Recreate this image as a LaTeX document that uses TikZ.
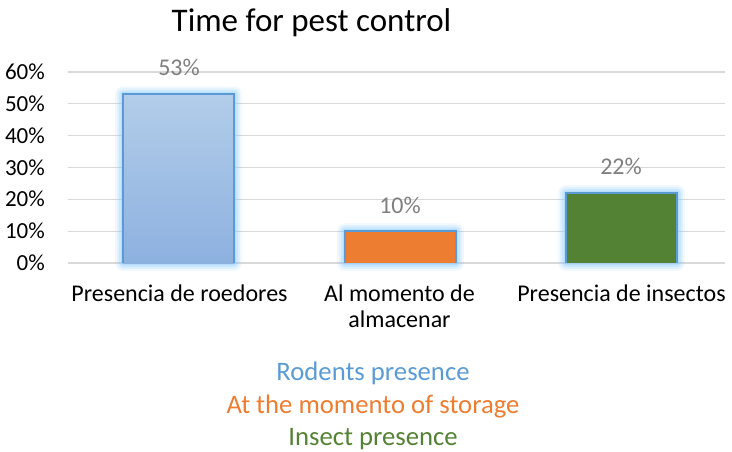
\documentclass[tikz,border=0pt]{standalone}
\usepackage{fontspec}
\setmainfont{Carlito}
\definecolor{rejilla}{HTML}{D9D9D9}
\definecolor{borde}{HTML}{5B9BD5}
\definecolor{brillo}{HTML}{8CCBFF}
\definecolor{azularriba}{HTML}{B3CDEA}
\definecolor{azulabajo}{HTML}{8DB1DF}
\definecolor{naranja}{HTML}{ED7D31}
\definecolor{verde}{HTML}{548235}
\definecolor{gris}{HTML}{7F7F7F}

\begin{document}
\begin{tikzpicture}[x=1pt,y=-1pt]
  \useasboundingbox (0,0) rectangle (732,452);

  % Titulo
  \node[anchor=base, font=\fontsize{33}{38}\selectfont] (titulo) at (311.5,32) {Time for pest control};

  % Rejilla y eje
  \foreach \v/\t in {0/0,1/10,2/20,3/30,4/40,5/50,6/60} {
    \draw[rejilla, line width=1.2] (68,{263-31.83*\v}) -- (725,{263-31.83*\v});
    \node[anchor=base east, inner sep=0, font=\fontsize{23}{27}\selectfont] (eje\v) at (45,{270.5-31.83*\v}) {\t\%};
  }

  % Brillo de las barras
  \foreach \xa/\xb/\top in {123/234/94.3, 345/456/231.2, 566/677/193} {
    \foreach \r/\o in {8/0.12,6/0.18,4/0.25,2/0.35} {
      \fill[brillo, fill opacity=\o, rounded corners=\r] (\xa-\r,\top-\r) rectangle (\xb+\r,263+\r);
    }
  }

  % Barras
  \shade[top color=azularriba, bottom color=azulabajo] (123,94.3) rectangle (234,263);
  \draw[borde, line width=1.6] (123,263) |- (234,94.3) -- (234,263);
  \fill[naranja] (345,231.2) rectangle (456,263);
  \draw[borde, line width=1.6] (345,263) |- (456,231.2) -- (456,263);
  \fill[verde] (566,193) rectangle (677,263);
  \draw[borde, line width=1.6] (566,263) |- (677,193) -- (677,263);

  % Valores
  \node[gris, anchor=base, font=\fontsize{24}{28}\selectfont] (val1) at (179,76) {53\%};
  \node[gris, anchor=base, font=\fontsize{24}{28}\selectfont] (val2) at (400,213) {10\%};
  \node[gris, anchor=base, font=\fontsize{24}{28}\selectfont] (val3) at (621,175) {22\%};

  % Categorias
  \node[anchor=base, font=\fontsize{24}{26}\selectfont] (cat1) at (179.5,301) {Presencia de roedores};
  \node[anchor=base, font=\fontsize{24}{26}\selectfont, align=center] (cat2) at (399.5,327) {Al momento de\\almacenar};
  \node[anchor=base, font=\fontsize{24}{26}\selectfont] (cat3) at (621.5,301) {Presencia de insectos};

  % Leyenda
  \node[borde, anchor=base, font=\fontsize{26.7}{30}\selectfont] (ley1) at (373,380) {Rodents presence};
  \node[naranja, anchor=base, font=\fontsize{26.7}{30}\selectfont] (ley2) at (373,413) {At the momento of storage};
  \node[verde, anchor=base, font=\fontsize{26.7}{30}\selectfont] (ley3) at (373,445) {Insect presence};
\end{tikzpicture}
\end{document}
